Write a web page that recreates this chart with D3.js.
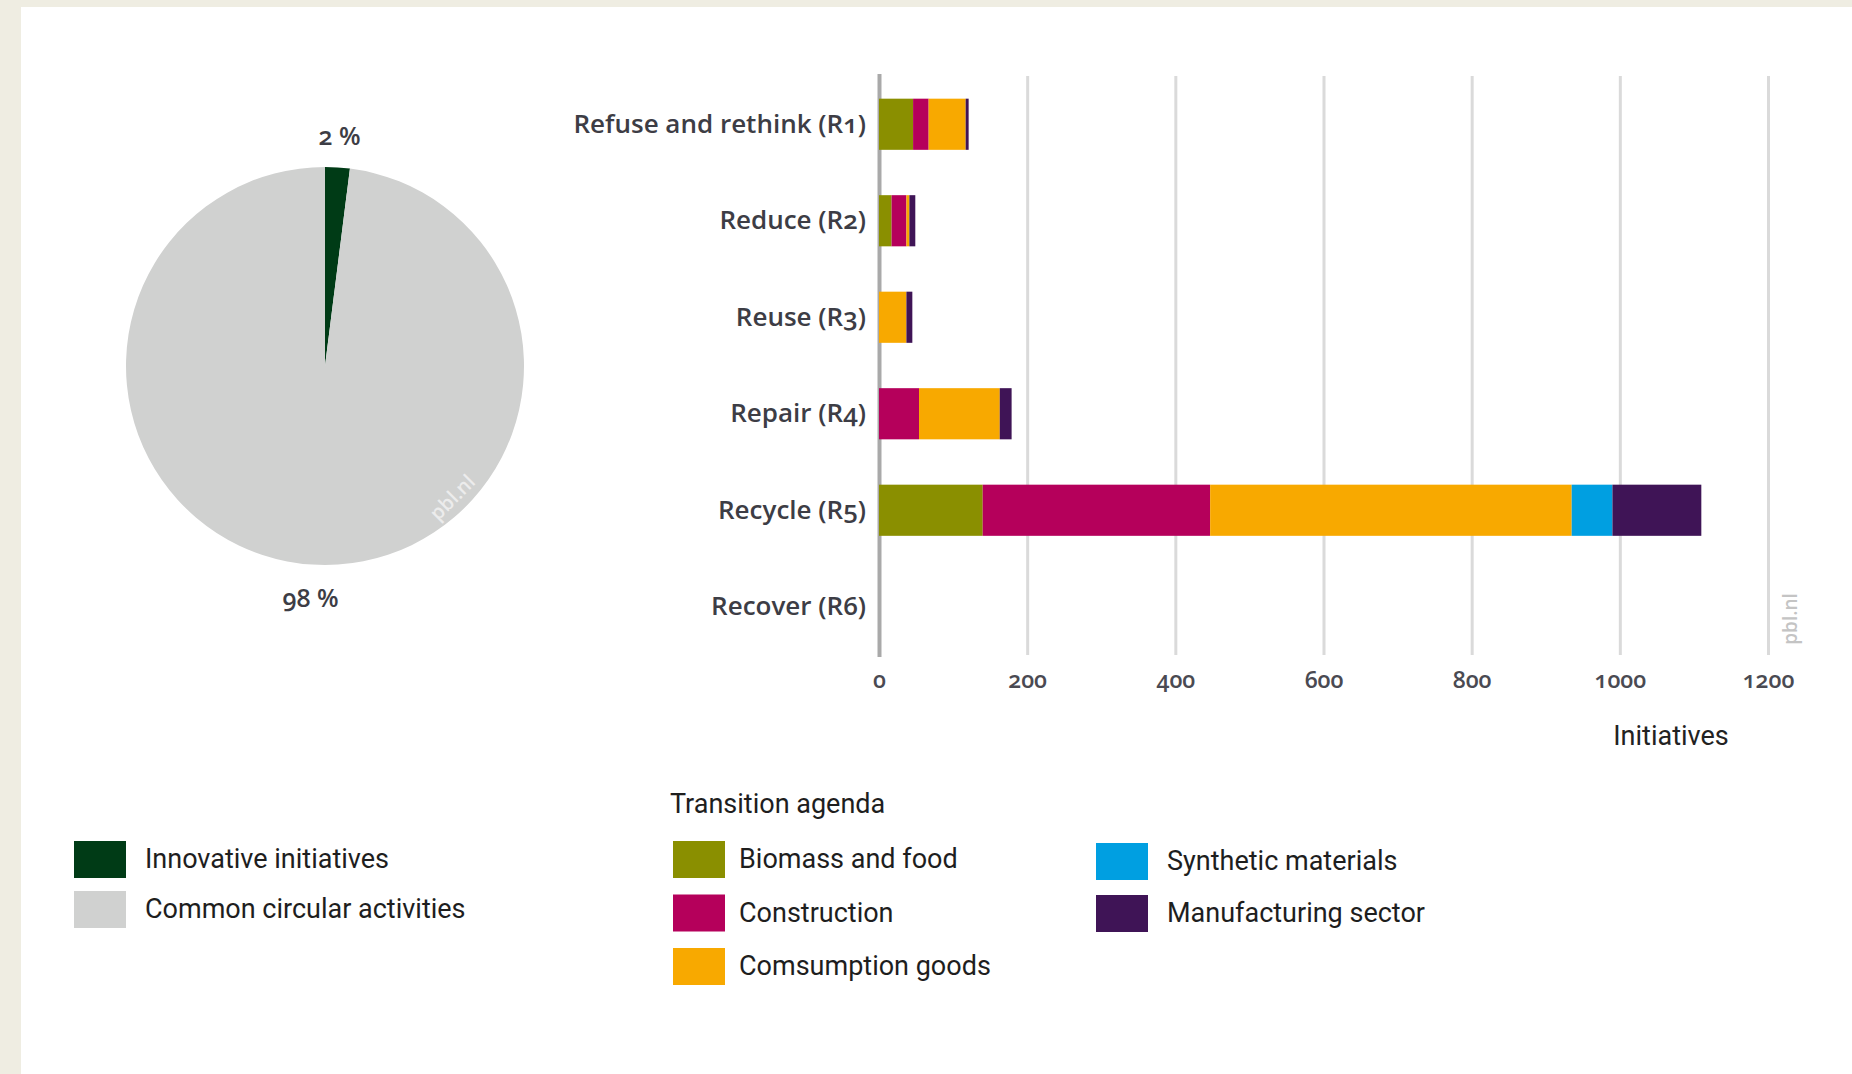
<!DOCTYPE html>
<html>
<head>
<meta charset="utf-8">
<script src="https://cdn.jsdelivr.net/npm/d3@7"></script>
<style>
  body { margin: 0; background: #efede2; }
  svg { display: block; }
</style>
</head>
<body>
<svg id="chart" width="1852" height="1074"></svg>
<script>
// R-ladder categories and number of initiatives per transition agenda
var categories = ["Refuse and rethink (R1)", "Reduce (R2)", "Reuse (R3)", "Repair (R4)", "Recycle (R5)", "Recover (R6)"];
var agendas = ["Biomass and food", "Construction", "Comsumption goods", "Synthetic materials", "Manufacturing sector"];
var biomass = [46, 17, 0, 0, 140, 0];
var construction = [21, 20, 0, 54, 307, 0];
var consumption = [50, 4, 37, 109, 488, 0];
var synthetic = [0, 0, 0, 0, 55, 0];
var manufacturing = [4, 8, 8, 16, 120, 0];
var xTicks = [0, 200, 400, 600, 800, 1000, 1200];

// pie: share of innovative initiatives
var pieNames = ["Innovative initiatives", "Common circular activities"];
var pieShares = [2, 98];
var pieTexts = ["2 %", "98 %"];

var agendaColors = ["#8a8f00", "#b5005b", "#f8a900", "#009fe1", "#3f1456"];
var pieColors = ["#003b16", "#d0d1d0"];

var svg = d3.select("#chart");

svg.append("rect")
  .attr("x", 21)
  .attr("y", 7)
  .attr("width", 1852 - 21)
  .attr("height", 1074 - 7)
  .attr("fill", "#ffffff");

// ---- pie ----
var pieCx = 325, pieCy = 366, pieR = 199;
var gPie = svg.append("g").attr("transform", "translate(" + pieCx + "," + pieCy + ")");
var slices = d3.pie().sort(null).value(function(d) { return d; })(pieShares);
var arc = d3.arc().innerRadius(0).outerRadius(pieR);
var labelArc = d3.arc().innerRadius(231).outerRadius(231);

gPie.selectAll("path.slice")
  .data(slices)
  .enter()
  .append("path")
  .classed("slice", true)
  .attr("d", arc)
  .attr("fill", function(d, i) { return pieColors[i]; });

gPie.selectAll("text.pct")
  .data(slices)
  .enter()
  .append("text")
  .classed("pct", true)
  .attr("transform", function(d) { return "translate(" + labelArc.centroid(d) + ")"; })
  .attr("text-anchor", "middle")
  .attr("dominant-baseline", "central")
  .style("font-family", "'Open Sans', sans-serif")
  .style("font-weight", 600)
  .style("font-size", "25px")
  .style("font-variant-numeric", "oldstyle-nums")
  .style("fill", "#3d3d45")
  .text(function(d, i) { return pieTexts[i]; });

gPie.append("text")
  .attr("transform", "translate(127,131) rotate(-45)")
  .attr("text-anchor", "middle")
  .attr("dominant-baseline", "central")
  .style("font-family", "'Open Sans', sans-serif")
  .style("font-weight", 600)
  .style("font-size", "20px")
  .style("fill", "#ececec")
  .text("pbl.nl");

// ---- stacked bars ----
var x = d3.scaleLinear().domain([0, 1200]).range([879, 1768]);
var y = d3.scaleBand().domain(categories).range([76, 655]).paddingInner(0.47).paddingOuter(0.235);

var rows = categories.map(function(c, i) {
  return {
    cat: c,
    "Biomass and food": biomass[i],
    "Construction": construction[i],
    "Comsumption goods": consumption[i],
    "Synthetic materials": synthetic[i],
    "Manufacturing sector": manufacturing[i]
  };
});
var series = d3.stack().keys(agendas)(rows);

var gxGrid = svg.append("g")
  .attr("transform", "translate(0,655)")
  .call(d3.axisBottom(x).tickValues(xTicks).tickSize(-579).tickPadding(17).tickFormat(d3.format("d")));
gxGrid.select(".domain").remove();
gxGrid.selectAll(".tick line")
  .attr("stroke", "#dadada")
  .attr("stroke-width", 3);
gxGrid.selectAll(".tick text")
  .style("font-family", "'Open Sans', sans-serif")
  .style("font-weight", 600)
  .style("font-size", "23px")
  .style("font-variant-numeric", "oldstyle-nums")
  .style("fill", "#4a4a52");
gxGrid.selectAll(".tick")
  .filter(function(d) { return d === 0; })
  .select("line")
  .attr("stroke", "#a9a9a9")
  .attr("stroke-width", 4)
  .attr("y2", -581)
  .attr("y1", 2);

svg.append("g")
  .selectAll("g.series")
  .data(series)
  .enter()
  .append("g")
  .classed("series", true)
  .attr("fill", function(d, i) { return agendaColors[i]; })
  .selectAll("rect")
  .data(function(d) { return d; })
  .enter()
  .append("rect")
  .attr("x", function(d) { return x(d[0]); })
  .attr("y", function(d) { return y(d.data.cat); })
  .attr("width", function(d) { return x(d[1]) - x(d[0]); })
  .attr("height", y.bandwidth());

var gyAxis = svg.append("g")
  .attr("transform", "translate(879,0)")
  .call(d3.axisLeft(y).tickSize(0).tickPadding(13));
gyAxis.select(".domain").remove();
gyAxis.selectAll(".tick text")
  .style("font-family", "'Open Sans', sans-serif")
  .style("font-weight", 600)
  .style("font-size", "26px")
  .style("font-variant-numeric", "oldstyle-nums")
  .style("fill", "#3d3d45");

svg.append("text")
  .attr("transform", "translate(1671,736)")
  .attr("text-anchor", "middle")
  .attr("dominant-baseline", "central")
  .style("font-family", "Roboto, sans-serif")
  .style("font-size", "27px")
  .style("fill", "#222")
  .text("Initiatives");

svg.append("text")
  .attr("transform", "translate(1790,619) rotate(-90)")
  .attr("text-anchor", "middle")
  .attr("dominant-baseline", "central")
  .style("font-family", "'Open Sans', sans-serif")
  .style("font-weight", 600)
  .style("font-size", "19px")
  .style("fill", "#c4c4c4")
  .text("pbl.nl");

// ---- legends ----
var legendFont = function(sel) {
  sel.style("font-family", "Roboto, sans-serif")
    .style("font-size", "27px")
    .style("fill", "#1e1e1e");
};

function drawLegend(items, colors, x0, y0, step, gap) {
  var g = svg.append("g");
  var item = g.selectAll("g.item")
    .data(items)
    .enter()
    .append("g")
    .classed("item", true)
    .attr("transform", function(d, i) { return "translate(" + x0 + "," + (y0 + i * step) + ")"; });
  item.append("rect")
    .attr("x", 0)
    .attr("y", -18)
    .attr("width", 52)
    .attr("height", 37)
    .attr("fill", function(d) { return colors[items.indexOf(d)]; });
  item.append("text")
    .attr("x", gap)
    .attr("dominant-baseline", "central")
    .call(legendFont)
    .text(function(d) { return d; });
}

drawLegend(pieNames, pieColors, 74, 859, 50, 71);
drawLegend(agendas.slice(0, 3), agendaColors.slice(0, 3), 673, 859, 53.5, 66);
drawLegend(agendas.slice(3), agendaColors.slice(3), 1096, 861, 52, 71);

svg.append("text")
  .attr("x", 670)
  .attr("y", 804)
  .attr("dominant-baseline", "central")
  .call(legendFont)
  .text("Transition agenda");
</script>
</body>
</html>
